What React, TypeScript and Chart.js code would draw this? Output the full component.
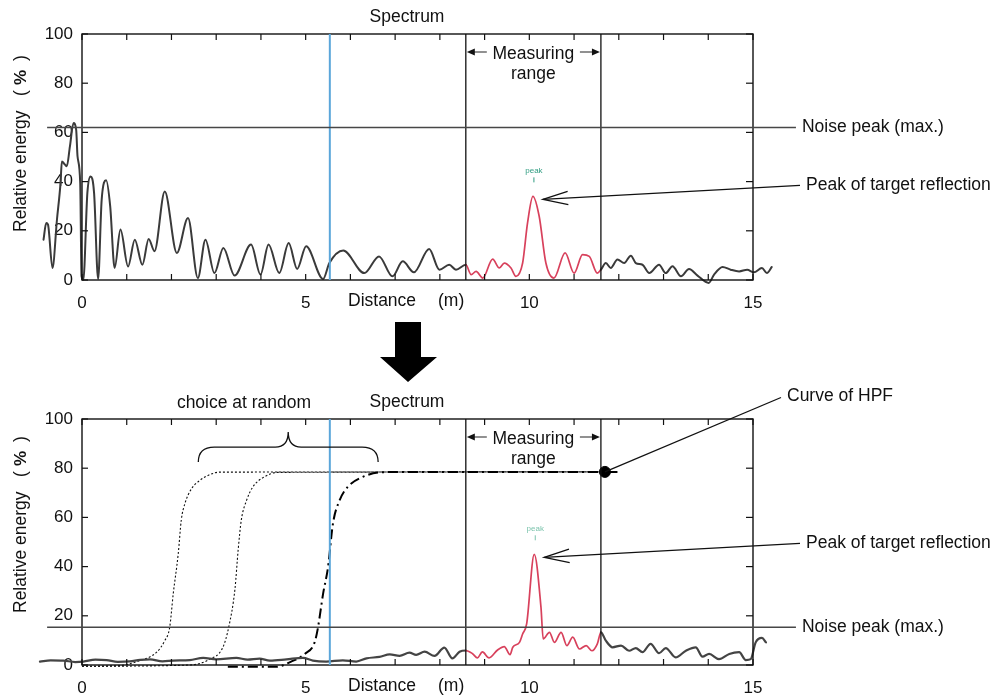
import { useEffect, useRef } from "react";
import { Chart, registerables } from "chart.js";
Chart.register(...registerables);

const FONT = '"Liberation Sans", Arial, Helvetica, sans-serif';

// ---------- data ----------
const X_LABELED = [0, 5, 10, 15];
const X_MIN = 0;
const X_MAX = 15;
const Y_MIN = 0;
const Y_MAX = 100;
const Y_STEP = 20;

const TOP_X = [-0.86,-0.80,-0.76,-0.66,-0.56,-0.48,-0.45,-0.38,-0.34,-0.27,-0.19,-0.13,-0.10,-0.04,-0.01,0.03,0.12,0.19,0.27,0.36,0.44,0.54,0.63,0.73,0.86,1.03,1.18,1.35,1.49,1.62,1.85,2.12,2.37,2.59,2.76,2.96,3.16,3.41,3.78,3.99,4.17,4.41,4.62,4.81,5.01,5.39,5.53,5.84,6.31,6.64,6.94,7.17,7.42,7.76,7.99,8.21,8.36,8.58,8.70,8.81,8.96,9.18,9.33,9.44,9.59,9.70,9.85,9.96,10.08,10.22,10.37,10.55,10.80,11.00,11.19,11.34,11.52,11.60,11.71,11.82,11.97,12.12,12.27,12.38,12.53,12.68,12.90,13.05,13.20,13.39,13.57,13.76,14.01,14.13,14.32,14.50,14.69,14.87,15.02,15.20,15.31,15.42];
const TOP_Y = [16.4,23.2,22.5,4.9,24.5,39.4,48.2,46.9,46.2,54.3,63.8,61,50.3,39.4,1.5,0.1,35.4,42.1,35.4,0.4,32.7,40.5,30,4.9,20.5,5.5,16.4,6.2,16.7,11.7,36,11,25.2,0.8,16.4,2.8,13,1.8,14.4,2.2,14.4,2.8,15,4.5,13.7,0.4,6.9,12,2.8,9.6,1.5,7.6,3.1,12.6,4.2,6.2,4.2,6.2,2.2,3.5,0.8,8.5,4.9,6.9,4.9,1.5,6.9,23.2,34,25.9,6.9,0.8,11,2.8,10.3,9.6,2.8,4.2,6.9,4.9,8.3,6.9,9.9,6.9,6.2,2.8,6.2,2.8,5.6,1.5,4.5,1.8,-1.2,2.2,5.3,4.2,3.5,4.2,3.1,4.9,2.8,5.3];

const BOT_X = [-0.94,-0.7,-0.42,-0.15,0.03,0.3,0.55,0.8,1.07,1.3,1.52,1.8,2.04,2.41,2.71,3.0,3.45,3.7,3.97,4.2,4.57,4.94,5.16,5.46,5.83,6.13,6.36,6.65,6.88,7.1,7.32,7.47,7.66,7.88,8.1,8.28,8.44,8.58,8.73,8.84,8.95,9.1,9.29,9.44,9.57,9.63,9.78,9.85,9.94,10.11,10.26,10.31,10.45,10.56,10.71,10.84,10.97,11.12,11.27,11.4,11.52,11.6,11.71,11.86,12.05,12.23,12.38,12.53,12.71,12.9,13.05,13.27,13.5,13.72,13.87,14.02,14.24,14.47,14.69,14.84,14.95,15.06,15.2,15.29];
const BOT_Y = [1.4,1.9,1.8,1.2,1.4,2.2,2.0,1.3,1.5,2.1,2.3,1.5,1.8,2.0,2.9,2.3,2.9,2.2,2.6,1.8,2.3,2.9,1.8,1.4,1.9,1.4,2.7,3.3,4.3,3.7,5.0,4.1,5.4,3.7,7.1,2.7,5.4,5.9,4.6,2.9,5.3,2.9,6.1,7.5,4.2,7.2,9.2,12.6,16.7,45,23.5,10.6,13.3,9.2,13.3,7.9,11.3,6.5,7.9,5.8,8.6,13.3,9.9,7.2,7.9,5.8,6.9,5.2,8.6,4.8,6.9,3.1,5.8,7.2,3.4,4.5,2.4,4.5,5.2,2.0,2.4,9.2,11,9.2];

const HPF1_X = [0, 0.8, 1.29, 1.67, 1.85, 1.96, 2.04, 2.15, 2.22, 2.30, 2.45, 2.63, 2.86, 3.08, 11.69];
const HPF1_Y = [-0.5, -0.3, 1.8, 5.2, 9.9, 15.3, 29, 45, 59, 65.6, 71.7, 75, 77.4, 78.4, 78.5];
const HPF2_X = [0, 2.41, 2.86, 3.15, 3.28, 3.42, 3.49, 3.56, 3.68, 3.82, 4.05, 4.38, 11.69];
const HPF2_Y = [-0.5, 0, 2.4, 7.2, 15.4, 31, 46.6, 58.8, 67, 72.4, 76.2, 78.3, 78.5];
const HPF3_X = [3.26, 4.35, 4.64, 4.98, 5.2, 5.27, 5.39, 5.5, 5.61, 5.76, 5.94, 6.28, 6.73, 11.97];
const HPF3_Y = [-0.7, -0.7, 1.1, 4.5, 9.2, 14.7, 29, 39.8, 57.5, 67, 72.4, 76.5, 78.4, 78.5];
const HPF_MARK = [11.69, 78.5];

const NOISE_TOP = 62;
const NOISE_BOTTOM = 15.3;
const NOISE_FROM = -0.78;
const NOISE_TO = 15.96;
const RANGE_START = 8.58;
const RANGE_END = 11.6;
const BLUE_X = 5.54;
const TOP_PEAK = [10.08, 34];
const BOT_PEAK = [10.11, 45];
const BRACE = { from: 2.6, to: 6.62, level: 88.6, tip: 82.5, cusp: 94.7 };

const TEXT_COLOR = "#111";
const SPEC_COLOR = "#3a3a3a";
const RED = "#d8415c";
const BLUE = "#5ba6da";

const pts = (xs: number[], ys: number[]) => xs.map((x, i) => ({ x, y: ys[i] }));

type Decor = { noise: number; peak: number[]; lower: boolean };

function makeDecor(o: Decor) {
  return {
    id: "decor",
    afterDatasetsDraw(chart: any) {
      const { ctx, chartArea: a } = chart;
      const xs = chart.scales.x;
      const ys = chart.scales.y;
      const px = (v: number) => xs.getPixelForValue(v);
      const py = (v: number) => ys.getPixelForValue(v);
      const seg = (x1: number, y1: number, x2: number, y2: number) => {
        ctx.beginPath();
        ctx.moveTo(x1, y1);
        ctx.lineTo(x2, y2);
        ctx.stroke();
      };
      const font = (s: number, bold = false) => `${bold ? "bold " : ""}${s}px ${FONT}`;
      ctx.save();
      ctx.lineCap = "butt";
      // frame + inward ticks
      ctx.strokeStyle = "#111";
      ctx.lineWidth = 1.4;
      ctx.strokeRect(a.left, a.top, a.right - a.left, a.bottom - a.top);
      ctx.lineWidth = 1.2;
      for (const t of xs.ticks) {
        const X = px(t.value);
        seg(X, a.top, X, a.top + 6);
        seg(X, a.bottom, X, a.bottom - 6);
      }
      for (const t of ys.ticks) {
        const Y = py(t.value);
        seg(a.left, Y, a.left + 6, Y);
        seg(a.right, Y, a.right - 7, Y);
      }
      // blue line
      ctx.strokeStyle = BLUE;
      ctx.lineWidth = 2;
      seg(px(BLUE_X), a.top, px(BLUE_X), a.bottom);
      // measuring range lines
      ctx.strokeStyle = "#111";
      ctx.lineWidth = 1.3;
      const r0 = px(RANGE_START);
      const r1 = px(RANGE_END);
      seg(r0, a.top, r0, a.bottom);
      seg(r1, a.top, r1, a.bottom);
      // noise line
      ctx.strokeStyle = "#474747";
      ctx.lineWidth = 1.5;
      const ny = py(o.noise);
      seg(px(NOISE_FROM), ny, px(NOISE_TO), ny);

      ctx.fillStyle = TEXT_COLOR;
      ctx.font = font(17.5);
      ctx.textBaseline = "middle";
      ctx.textAlign = "left";
      ctx.fillText("Noise peak (max.)", px(NOISE_TO) + 6, ny);

      // titles
      ctx.textAlign = "center";
      ctx.fillText("Spectrum", 407, a.top - 17);
      if (o.lower) ctx.fillText("choice at random", 244, a.top - 16);
      ctx.textAlign = "left";
      ctx.fillText("Distance", 348, a.bottom + 21);
      ctx.fillText("(m)", 438, a.bottom + 21);

      // measuring range text
      const rc = (r0 + r1) / 2;
      ctx.textAlign = "center";
      ctx.textBaseline = "alphabetic";
      ctx.fillText("Measuring", rc, a.top + 24.5);
      ctx.fillText("range", rc, a.top + 44.5);
      const ay = a.top + 18;
      ctx.lineWidth = 1.2;
      seg(r0 + 6, ay, r0 + 21, ay);
      seg(r1 - 21, ay, r1 - 6, ay);
      ctx.beginPath();
      ctx.moveTo(r0 + 1, ay);
      ctx.lineTo(r0 + 9, ay - 3.5);
      ctx.lineTo(r0 + 9, ay + 3.5);
      ctx.closePath();
      ctx.fill();
      ctx.beginPath();
      ctx.moveTo(r1 - 1, ay);
      ctx.lineTo(r1 - 9, ay - 3.5);
      ctx.lineTo(r1 - 9, ay + 3.5);
      ctx.closePath();
      ctx.fill();

      // green peak marker
      const pkx = px(o.peak[0]);
      const pky = py(o.peak[1]);
      ctx.fillStyle = o.lower ? "#7cc4ad" : "#2f9c80";
      ctx.strokeStyle = ctx.fillStyle;
      ctx.font = font(8);
      ctx.textBaseline = "middle";
      ctx.fillText("peak", pkx + 1, pky - 26);
      ctx.lineWidth = 1;
      seg(pkx + 1, pky - 19, pkx + 1, pky - 14);

      // peak of target reflection arrow
      ctx.strokeStyle = "#111";
      ctx.fillStyle = TEXT_COLOR;
      ctx.lineWidth = 1.3;
      const tx = pkx + 10;
      const ty = pky + 3;
      const ex = 800;
      const ey = ty - 14;
      seg(tx, ty, ex, ey);
      const th = Math.atan2(ey - ty, ex - tx);
      const d = (15 * Math.PI) / 180;
      ctx.beginPath();
      ctx.moveTo(tx + 26 * Math.cos(th - d), ty + 26 * Math.sin(th - d));
      ctx.lineTo(tx, ty);
      ctx.lineTo(tx + 26 * Math.cos(th + d), ty + 26 * Math.sin(th + d));
      ctx.stroke();
      ctx.font = font(17.5);
      ctx.textAlign = "left";
      ctx.textBaseline = "middle";
      ctx.fillText("Peak of target reflection", 806, ey);

      if (o.lower) {
        // brace
        const bx0 = px(BRACE.from);
        const bx1 = px(BRACE.to);
        const bm = (bx0 + bx1) / 2;
        const by = py(BRACE.level);
        const bt = py(BRACE.tip);
        const bc = py(BRACE.cusp);
        ctx.lineWidth = 1.3;
        ctx.beginPath();
        ctx.moveTo(bx0, bt);
        ctx.quadraticCurveTo(bx0, by, bx0 + 16, by);
        ctx.lineTo(bm - 13, by);
        ctx.quadraticCurveTo(bm, by, bm, bc);
        ctx.quadraticCurveTo(bm, by, bm + 13, by);
        ctx.lineTo(bx1 - 16, by);
        ctx.quadraticCurveTo(bx1, by, bx1, bt);
        ctx.stroke();
        // curve of HPF
        const mx = px(HPF_MARK[0]);
        const my = py(HPF_MARK[1]);
        ctx.lineWidth = 1.3;
        seg(mx, my, 781, 12.5);
        ctx.fillText("Curve of HPF", 787, 11);
      }

      // y axis title
      ctx.save();
      ctx.translate(21, a.top + (o.lower ? 194 : 198));
      ctx.rotate(-Math.PI / 2);
      ctx.textAlign = "left";
      ctx.textBaseline = "middle";
      ctx.font = font(17.5);
      ctx.fillText("Relative energy", 0, 0);
      ctx.fillText("(", 136, 0);
      ctx.font = font(17, true);
      ctx.fillText("%", 147, 0);
      ctx.font = font(17.5);
      ctx.fillText(")", 171, 0);
      ctx.restore();

      if (!o.lower) {
        // big down arrow
        ctx.fillStyle = "#000";
        ctx.beginPath();
        ctx.moveTo(395, 322);
        ctx.lineTo(421, 322);
        ctx.lineTo(421, 357);
        ctx.lineTo(437, 357);
        ctx.lineTo(408, 382);
        ctx.lineTo(380, 357);
        ctx.lineTo(395, 357);
        ctx.closePath();
        ctx.fill();
      }
      ctx.restore();
    },
  };
}

function makeConfig(lower: boolean, height: number): any {
  const specX = lower ? BOT_X : TOP_X;
  const specY = lower ? BOT_Y : TOP_Y;
  const inRange = (c: any) =>
    c.p0.parsed.x >= RANGE_START - 1e-6 && c.p1.parsed.x <= RANGE_END + 1e-6;
  const datasets: any[] = [
    {
      data: pts(specX, specY),
      borderColor: SPEC_COLOR,
      borderWidth: lower ? 2.2 : 2,
      pointRadius: 0,
      cubicInterpolationMode: "monotone",
      clip: false,
      order: 0,
      borderJoinStyle: "round",
      borderCapStyle: "round",
      segment: {
        borderColor: (c: any) => (inRange(c) ? RED : lower ? "#444" : SPEC_COLOR),
        borderWidth: (c: any) => (inRange(c) ? 1.7 : lower ? 2.2 : 2),
      },
    },
  ];
  if (lower) {
    datasets.push(
      {
        data: pts(HPF1_X, HPF1_Y),
        borderColor: "#111",
        borderWidth: 1.1,
        borderDash: [2, 2],
        pointRadius: 0,
        cubicInterpolationMode: "monotone",
        clip: false,
        order: 2,
      },
      {
        data: pts(HPF2_X, HPF2_Y),
        borderColor: "#111",
        borderWidth: 1.1,
        borderDash: [2, 2],
        pointRadius: 0,
        cubicInterpolationMode: "monotone",
        clip: false,
        order: 2,
      },
      {
        data: pts(HPF3_X, HPF3_Y),
        borderColor: "#000",
        borderWidth: 2,
        borderDash: [10, 4, 2, 4],
        pointRadius: 0,
        cubicInterpolationMode: "monotone",
        clip: false,
        order: 1,
      },
      {
        data: [{ x: HPF_MARK[0], y: HPF_MARK[1] }],
        showLine: false,
        pointRadius: 5.5,
        pointBackgroundColor: "#000",
        pointBorderColor: "#000",
        clip: false,
        order: 0,
      }
    );
  }
  const areaTop = 34;
  const areaH = 246;
  const xH = height - areaTop - areaH;
  return {
    type: "line",
    data: { datasets },
    options: {
      responsive: false,
      animation: false,
      events: [],
      layout: {
        autoPadding: false,
        padding: { left: 0, right: 249, top: areaTop, bottom: 0 },
      },
      plugins: { legend: { display: false }, tooltip: { enabled: false }, title: { display: false } },
      scales: {
        x: {
          type: "linear",
          afterDataLimits: (s: any) => {
            s.min = X_MIN;
            s.max = X_MAX;
          },
          afterFit: (s: any) => {
            s.height = xH;
          },
          grid: { display: false, drawTicks: false },
          border: { display: false },
          ticks: {
            stepSize: 1,
            autoSkip: false,
            maxRotation: 0,
            padding: 13,
            color: TEXT_COLOR,
            font: { family: FONT, size: 17 },
            callback: (v: any) => (X_LABELED.includes(Number(v)) ? String(v) : ""),
          },
        },
        y: {
          type: "linear",
          min: Y_MIN,
          max: Y_MAX,
          afterFit: (s: any) => {
            s.width = 82;
          },
          grid: { display: false, drawTicks: false },
          border: { display: false },
          ticks: {
            stepSize: Y_STEP,
            padding: 9,
            color: TEXT_COLOR,
            font: { family: FONT, size: 17 },
          },
        },
      },
    },
    plugins: [
      makeDecor({
        noise: lower ? NOISE_BOTTOM : NOISE_TOP,
        peak: lower ? BOT_PEAK : TOP_PEAK,
        lower,
      }),
    ],
  };
}

export default function App() {
  const topRef = useRef<HTMLCanvasElement | null>(null);
  const botRef = useRef<HTMLCanvasElement | null>(null);
  useEffect(() => {
    const c1 = new Chart(topRef.current as HTMLCanvasElement, makeConfig(false, 385));
    const c2 = new Chart(botRef.current as HTMLCanvasElement, makeConfig(true, 314));
    return () => {
      c1.destroy();
      c2.destroy();
    };
  }, []);
  return (
    <div style={{ position: "absolute", left: 0, top: 0, width: 1002, height: 699, background: "#fff" }}>
      <canvas ref={topRef} width={1002} height={385} style={{ position: "absolute", left: 0, top: 0 }} />
      <canvas ref={botRef} width={1002} height={314} style={{ position: "absolute", left: 0, top: 385 }} />
    </div>
  );
}
